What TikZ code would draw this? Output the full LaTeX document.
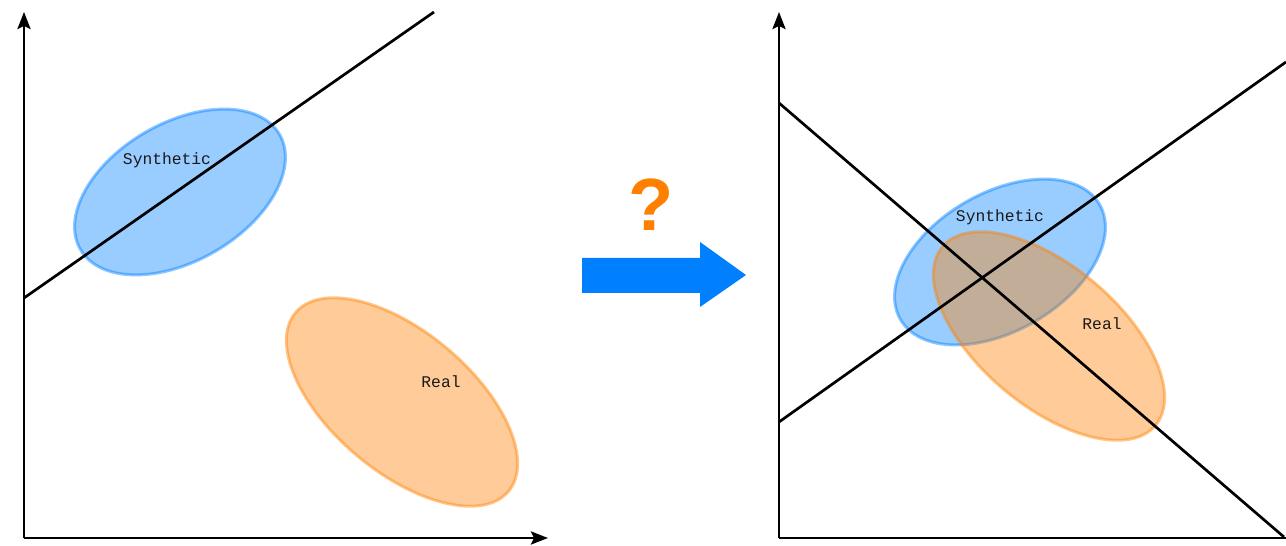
\documentclass[tikz,border=0pt]{standalone}
\usepackage{fontspec}
\setmainfont{Liberation Sans}
\newfontfamily\monofont{Liberation Mono}
\usetikzlibrary{arrows.meta}
\definecolor{cblue}{HTML}{007FFF}
\definecolor{corange}{HTML}{FF8000}
\begin{document}
\begin{tikzpicture}[x=1pt,y=1pt,
  axis/.style={line width=2.8pt, -{Stealth[length=17pt,width=13pt,inset=3pt]}},
  plainaxis/.style={line width=2.8pt},
  sep/.style={line width=2.7pt, black},
  syn/.style={fill=cblue, fill opacity=0.4, draw=cblue, draw opacity=0.45, line width=3pt},
  rea/.style={fill=corange, fill opacity=0.4, draw=corange, draw opacity=0.45, line width=3pt},
  lab/.style={font=\monofont\fontsize{16.3}{18}\selectfont, text=black!90}
]
\useasboundingbox (0,0) rectangle (1286,546);

% ---------- left panel ----------
\coordinate (LO) at (24,8);
\coordinate (LY) at (24,534);
\coordinate (LX) at (548,8);
\draw[rotate around={30:(180,354)}, syn] (180,354) ellipse [x radius=115, y radius=69];
\draw[rotate around={-40:(402,144)}, rea] (402,144) ellipse [x radius=139, y radius=70];
\coordinate (LA) at (24,248);
\coordinate (LB) at (434,534);
\draw[sep] (LA) -- (LB);
\draw[axis] (LO) -- (LY);
\draw[axis] (LO) -- (LX);
\node[lab] (lsyn) at (167,386) {Synthetic};
\node[lab] (lreal) at (441,164) {Real};

% ---------- middle ----------
\node[font=\bfseries\fontsize{74}{80}\selectfont, text=corange, inner sep=0pt] (q) at (651,341) {?};
\fill[cblue] (582,288) -- (700,288) -- (700,304) -- (746,271) -- (700,239) -- (700,253) -- (582,253) -- cycle;

% ---------- right panel ----------
\coordinate (RO) at (779,8);
\coordinate (RY) at (779,534);
\coordinate (RX) at (1286,8);
\draw[rotate around={30:(1000,284)}, syn] (1000,284) ellipse [x radius=115, y radius=69];
\draw[rotate around={-40:(1049,210)}, rea] (1049,210) ellipse [x radius=139, y radius=70];
\coordinate (RA) at (779,443);
\coordinate (RB) at (1284,9);
\coordinate (RC) at (779,124);
\coordinate (RD) at (1286,484);
\draw[sep] (RA) -- (RB);
\draw[sep] (RC) -- (RD);
\draw[axis] (RO) -- (RY);
\draw[plainaxis] (RO) -- (RX);
\node[lab] (rsyn) at (1000,329) {Synthetic};
\node[lab] (rreal) at (1102,222) {Real};
\end{tikzpicture}
\end{document}
